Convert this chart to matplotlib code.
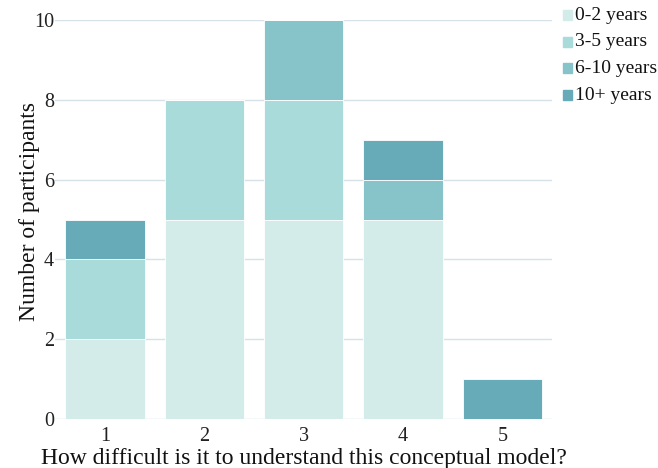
import numpy as np
import matplotlib.pyplot as plt
from matplotlib.patches import Rectangle

plt.rcParams['font.family'] = ['Liberation Serif', 'DejaVu Serif']

categories = [1, 2, 3, 4, 5]
series_names = ['0-2 years', '3-5 years', '6-10 years', '10+ years']
years_0_2 = [2, 5, 5, 5, 0]
years_3_5 = [2, 3, 3, 0, 0]
years_6_10 = [0, 0, 2, 1, 0]
years_10p = [1, 0, 0, 1, 1]
colors = ['#d3ecea', '#a8dbd9', '#86c4c9', '#68abb8']

W, H = 658, 468
fig = plt.figure(figsize=(W / 100, H / 100), dpi=100)
ax = fig.add_axes([55.4 / W, 1 - 419 / H, (552 - 55.4) / W, 399 / H])

bottom = np.zeros(len(categories))
for name, vals, c in zip(series_names, [years_0_2, years_3_5, years_6_10, years_10p], colors):
    vals = np.array(vals, dtype=float)
    ax.bar(categories, vals, width=0.8, bottom=bottom, color=c,
           edgecolor='white', linewidth=0.6, zorder=2)
    bottom += vals

ax.set_xlim(0.5, 5.5)
ax.set_ylim(0, 10)
ax.set_yticks([0, 2, 4, 6, 8, 10])
ax.set_xticks(categories)
ax.grid(axis='y', color='#d6e2e8', linewidth=1, zorder=0)
for s in ax.spines.values():
    s.set_visible(False)
ax.tick_params(length=0, labelsize=14.5, colors='#222222')
ax.tick_params(axis='x', pad=6)
ax.tick_params(axis='y', pad=1)
ax.set_xlabel('How difficult is it to understand this conceptual model?', fontsize=17, color='#111111', labelpad=1.5)
ax.set_ylabel('Number of participants', fontsize=17, color='#111111')
ax.yaxis.set_label_coords(-0.031, 0.52)

# legend drawn in figure pixels
for i, (name, c) in enumerate(zip(series_names, colors)):
    yc = 15 + i * 26.7
    fig.patches.append(Rectangle((563 / W, 1 - (yc + 5) / H), 9 / W, 10 / H,
                                 transform=fig.transFigure, color=c, figure=fig))
    fig.text(575 / W, 1 - yc / H, name, fontsize=14, color='#111111', va='center', ha='left')

fig.savefig('out.png', dpi=100)
